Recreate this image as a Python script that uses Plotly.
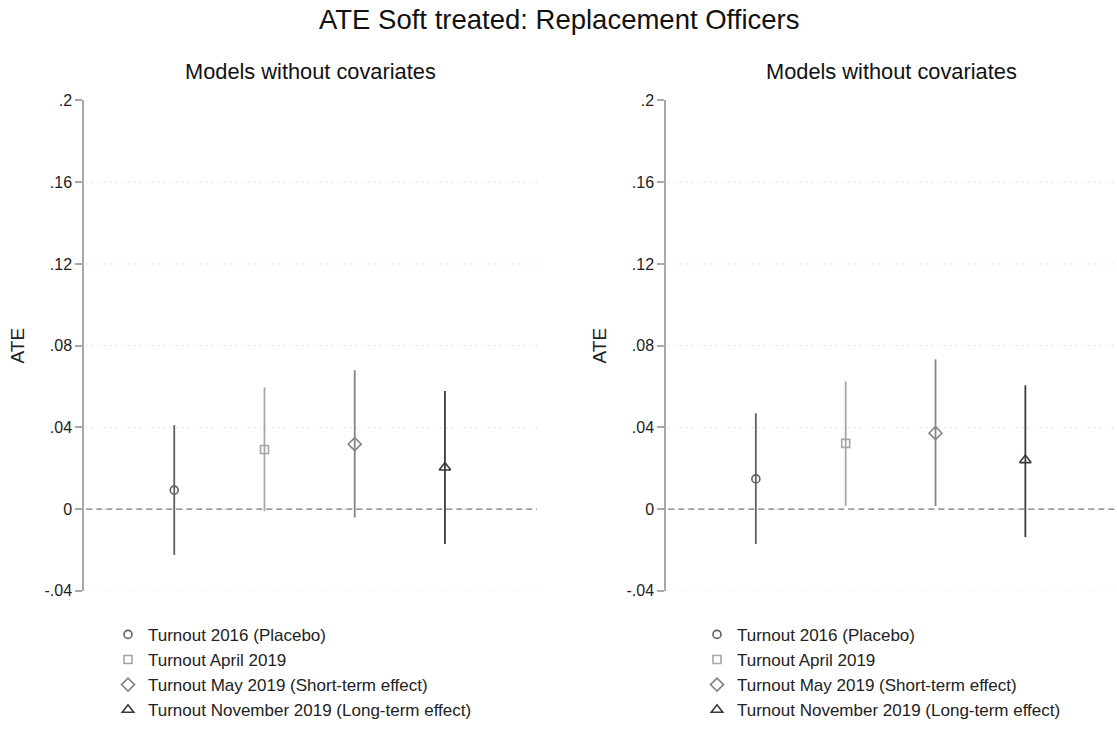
import plotly.graph_objects as go

# ---------------- data ----------------
labels = ["Turnout 2016 (Placebo)", "Turnout April 2019",
          "Turnout May 2019 (Short-term effect)", "Turnout November 2019 (Long-term effect)"]
xpos = [1, 2, 3, 4]

left_ate = [0.0093, 0.0292, 0.0318, 0.0204]
left_lo = [-0.0225, -0.0010, -0.0041, -0.0171]
left_hi = [0.0411, 0.0596, 0.0680, 0.0578]

right_ate = [0.0148, 0.0322, 0.0372, 0.0240]
right_lo = [-0.0171, 0.0016, 0.0015, -0.0136]
right_hi = [0.0469, 0.0625, 0.0733, 0.0606]

ytick_vals = [-0.04, 0, 0.04, 0.08, 0.12, 0.16, 0.2]
ytick_text = ["-.04", "0", ".04", ".08", ".12", ".16", ".2"]
grid_vals = [-0.04, 0, 0.04, 0.08, 0.12, 0.16]

symbols = ["circle-open", "square-open", "diamond-open", "triangle-up-open"]
colors = ["#5f5f5f", "#a6a6a6", "#858585", "#3a3a3a"]
msizes = [8, 8, 10, 10]

title = "ATE Soft treated: Replacement Officers"
subtitles = ["Models without covariates", "Models without covariates"]

FONT = "Liberation Sans, Arial, Helvetica, sans-serif"
W, H = 1117, 732
OFF, SC = 7.5, 0.977  # observed vertical placement of the page in the photograph

fig = go.Figure()

panels = [(left_ate, left_lo, left_hi, "x", "y", "legend"),
          (right_ate, right_lo, right_hi, "x2", "y2", "legend2")]

for ate, lo, hi, xa, ya, lg in panels:
    for i in range(4):
        fig.add_trace(go.Scatter(
            x=[xpos[i]], y=[ate[i]], xaxis=xa, yaxis=ya,
            mode="markers", name=labels[i], legend=lg,
            marker=dict(symbol=symbols[i], size=msizes[i], color=colors[i],
                        line=dict(width=1.6, color=colors[i])),
            error_y=dict(type="data", symmetric=False,
                         array=[hi[i] - ate[i]], arrayminus=[ate[i] - lo[i]],
                         color=colors[i], thickness=1.8, width=0),
            cliponaxis=False,
        ))

def px_x(p):
    return p / W

def px_y(p):
    # p is a target row in the photograph; convert to a paper fraction
    return 1 - ((p - OFF) / SC) / H

ydom = [px_y(590.5), px_y(100)]
axis_common_y = dict(range=[-0.04, 0.2], tickvals=ytick_vals, ticktext=ytick_text,
                     showgrid=False, zeroline=False, showline=True, linecolor="#a8a8a8",
                     linewidth=1.5, ticks="outside", ticklen=7, tickcolor="#a8a8a8",
                     tickwidth=1.5, tickfont=dict(size=16, color="#222", family=FONT),
                     title=dict(text="ATE", font=dict(size=19, color="#222", family=FONT),
                                standoff=15),
                     domain=ydom)
axis_common_x = dict(range=[0, 5.02], showgrid=False, zeroline=False, showline=False,
                     showticklabels=False, ticks="")

fig.update_layout(
    xaxis=dict(axis_common_x, domain=[px_x(84), px_x(537)]),
    xaxis2=dict(axis_common_x, domain=[px_x(666), 1.0]),
    yaxis=dict(axis_common_y, anchor="x"),
    yaxis2=dict(axis_common_y, anchor="x2"),
)

# gridlines and reference line
for xa, ya in [("x", "y"), ("x2", "y2")]:
    for g in grid_vals:
        fig.add_shape(type="line", xref=xa + " domain", yref=ya, x0=0.005, x1=1, y0=g, y1=g,
                      line=dict(color="#c8c8c8", width=1, dash="1px,5px"), layer="below")
    fig.add_shape(type="line", xref=xa + " domain", yref=ya, x0=0.005, x1=1, y0=0, y1=0,
                  line=dict(color="#7a7a7a", width=1.3, dash="6px,4px"), layer="below")

annotations = [
    dict(text=title, x=0.5, y=px_y(19), xref="paper", yref="paper", showarrow=False,
         font=dict(size=27.5, color="#111", family=FONT), xanchor="center", yanchor="middle"),
    dict(text=subtitles[0], x=(px_x(84) + px_x(537)) / 2, y=px_y(71), xref="paper", yref="paper",
         showarrow=False, font=dict(size=21.8, color="#111", family=FONT),
         xanchor="center", yanchor="middle"),
    dict(text=subtitles[1], x=(px_x(666) + 1.0) / 2, y=px_y(71), xref="paper", yref="paper",
         showarrow=False, font=dict(size=21.8, color="#111", family=FONT),
         xanchor="center", yanchor="middle"),
]

legend_common = dict(font=dict(size=17, color="#222", family=FONT), bgcolor="rgba(0,0,0,0)",
                     itemwidth=30, tracegroupgap=0, traceorder="normal",
                     yanchor="top", xanchor="left", itemclick=False, itemdoubleclick=False)

fig.update_layout(
    width=W, height=H, autosize=False,
    margin=dict(l=0, r=0, t=0, b=0),
    paper_bgcolor="white", plot_bgcolor="white",
    font=dict(family=FONT, color="#222"),
    annotations=annotations,
    showlegend=True,
    legend=dict(legend_common, x=px_x(108), y=px_y(616.5)),
    legend2=dict(legend_common, x=px_x(697), y=px_y(616.5)),
)

fig.write_html("out.html")
